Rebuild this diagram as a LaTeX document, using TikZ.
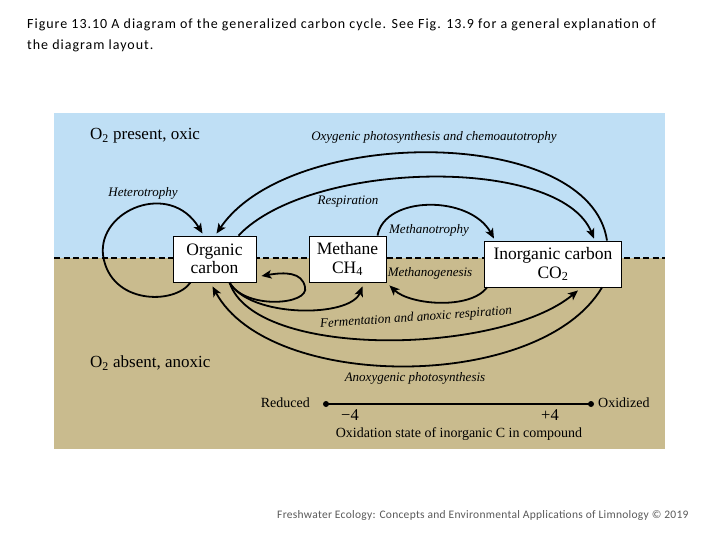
\documentclass[tikz,border=0pt]{standalone}
\usepackage{fontspec}
\setmainfont{Liberation Serif}
\newfontfamily\capfont[LetterSpace=7]{Carlito}
\newfontfamily\footfont[LetterSpace=2.5]{Carlito}
\usetikzlibrary{arrows.meta}
\definecolor{skyc}{RGB}{191,223,245}
\definecolor{sandc}{RGB}{201,187,142}
\definecolor{footc}{RGB}{90,90,90}
\begin{document}
\begin{tikzpicture}[x=1pt,y=-1pt,
  box/.style={draw=black, line width=0.9pt, fill=white, align=center,
    font=\fontsize{17.5}{18.5}\selectfont, inner sep=0pt},
  flow/.style={line width=1.8pt, -{Stealth[length=10pt,width=8.5pt,inset=2.5pt]}},
  lab/.style={font=\fontsize{13}{14}\selectfont\itshape, inner sep=0pt},
  zone/.style={font=\fontsize{17}{19}\selectfont, inner sep=0pt, anchor=west},
  axlab/.style={font=\fontsize{14}{16}\selectfont, inner sep=0pt},
  border/.style={line width=2.4pt, dash pattern=on 6pt off 3.5pt}
]
\useasboundingbox (0,0) rectangle (720,540);
\fill[white] (0,0) rectangle (720,540);
% caption
\node[anchor=north west, inner sep=0pt, align=left,
  font=\capfont\fontsize{14}{21}\selectfont] (cap) at (27,19)
  {Figure 13.10 A diagram of the generalized carbon cycle. See Fig. 13.9 for a general explanation of\\the diagram layout.};
% background zones
\fill[skyc] (54,113) rectangle (665,258);
\fill[sandc] (54,258) rectangle (665,449);
\draw[border] (54,258) -- (665,258);
% zone labels
\node[zone] (oxic) at (90,136) {O\textsubscript{2} present, oxic};
\node[zone] (anoxic) at (90,363) {O\textsubscript{2} absent, anoxic};
% boxes
\node[box, minimum width=83pt, minimum height=46pt] (org) at (214.5,259) {Organic\\carbon};
\node[box, minimum width=77pt, minimum height=46pt] (meth) at (347.5,259) {Methane\\CH\textsubscript{4}};
\node[box, minimum width=137pt, minimum height=46pt] (inorg) at (553,264) {Inorganic carbon\\CO\textsubscript{2}};
% heterotrophy loop
\draw[flow] ([xshift=-24pt]org.south) .. controls (175,305) and (110,305) .. (103,255)
  .. controls (98,210) and (170,180) .. ([xshift=-12pt,yshift=2pt]org.north);
% oxygenic photosynthesis
\draw[flow] ([xshift=54pt]inorg.north) .. controls (590,125) and (290,125) .. ([xshift=2pt,yshift=2pt]org.north);
% respiration
\draw[flow] ([xshift=24pt]org.north) .. controls (310,160) and (560,155) .. ([xshift=41pt,yshift=2pt]inorg.north);
% methanotrophy
\draw[flow] ([xshift=30pt]meth.north) .. controls (385,195) and (470,195) .. ([xshift=-59pt,yshift=2pt]inorg.north);
% methanogenesis
\draw[flow] ([xshift=-66pt]inorg.south) .. controls (470,310) and (410,305) .. ([xshift=3pt,yshift=-3pt]meth.south east);
% fermentation loop back to organic carbon
\draw[flow] ([xshift=15pt]org.south) .. controls (245,310) and (310,305) .. (305,287)
  .. controls (302,272) and (285,272) .. ([xshift=5pt,yshift=-17pt]org.east);
% organic carbon to methane
\draw[flow] ([xshift=15pt]org.south) .. controls (250,318) and (350,318) .. ([xshift=15pt,yshift=-4pt]meth.south);
% fermentation and anoxic respiration
\draw[flow] ([xshift=15pt]org.south) .. controls (255,360) and (500,355) .. ([xshift=25pt,yshift=-3pt]inorg.south);
% anoxygenic photosynthesis
\draw[flow] ([xshift=49pt]inorg.south) .. controls (540,392) and (270,392) .. ([xshift=-2pt,yshift=-4pt]org.south);
% process labels
\node[lab] (lhet) at (143,193) {Heterotrophy};
\node[lab] (loxy) at (434,137) {Oxygenic photosynthesis and chemoautotrophy};
\node[lab] (lres) at (348,202) {Respiration};
\node[lab] (lmot) at (429,230) {Methanotrophy};
\node[lab] (lmog) at (430,273) {Methanogenesis};
\node[lab, rotate=4] (lfer) at (416,318) {Fermentation and anoxic respiration};
\node[lab] (lano) at (415,378) {Anoxygenic photosynthesis};
% oxidation axis
\coordinate (axl) at (326,404);
\coordinate (axr) at (591,404);
\draw[line width=2.6pt] (axl) -- (axr);
\fill (axl) circle (3pt);
\fill (axr) circle (3pt);
\node[axlab, anchor=east] (red) at (310,403) {Reduced};
\node[axlab, anchor=west] (oxi) at (598,403) {Oxidized};
\node[axlab, font=\fontsize{16.5}{18}\selectfont] (m4) at (350,415) {−4};
\node[axlab, font=\fontsize{16.5}{18}\selectfont] (p4) at (550,415) {+4};
\node[axlab] (axt) at (459,434) {Oxidation state of inorganic C in compound};
% footer
\node[anchor=west, inner sep=0pt, text=footc, font=\footfont\fontsize{11.5}{13}\selectfont] (foot) at (277,515)
  {Freshwater Ecology: Concepts and Environmental Applications of Limnology \textcopyright{} 2019};
\end{tikzpicture}
\end{document}
